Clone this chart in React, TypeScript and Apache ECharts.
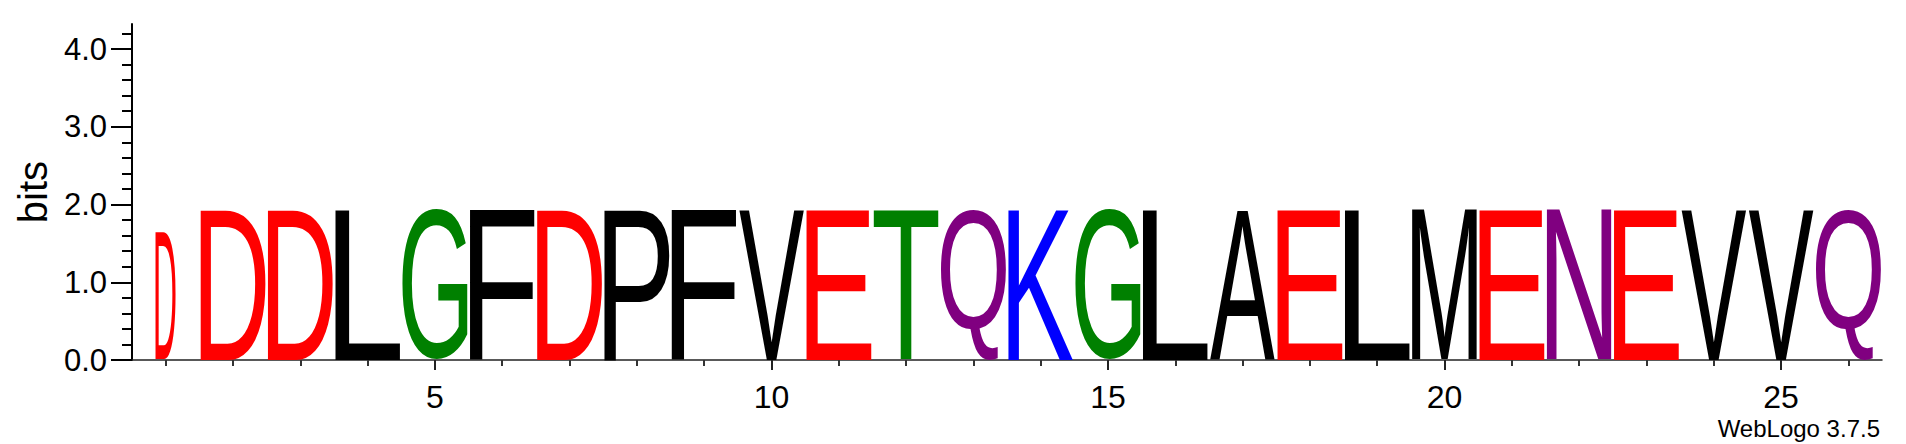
import { useEffect, useRef } from 'react';
import * as echarts from 'echarts';

// one residue per position, stack height in bits, fraction of non-gap sequences
const positions = [1, 2, 3, 4, 5, 6, 7, 8, 9, 10, 11, 12, 13, 14, 15, 16, 17, 18, 19, 20, 21, 22, 23, 24, 25, 26];
const letters = ['D', 'D', 'D', 'L', 'G', 'F', 'D', 'P', 'F', 'V', 'E', 'T', 'Q', 'K', 'G', 'L', 'A', 'E', 'L', 'M', 'E', 'N', 'E', 'V', 'V', 'Q'];
const bits = [1.63, 1.93, 1.93, 1.93, 1.93, 1.93, 1.93, 1.93, 1.93, 1.93, 1.93, 1.93, 1.93, 1.93, 1.93, 1.93, 1.93, 1.93, 1.93, 1.93, 1.93, 1.93, 1.93, 1.93, 1.93, 1.93];
const coverage = [0.31, 1, 1, 1, 1, 1, 1, 1, 1, 1, 1, 1, 1, 1, 1, 1, 1, 1, 1, 1, 1, 1, 1, 1, 1, 1];

const xMajorTicks = [5, 10, 15, 20, 25];
const xMinorTicks = [1, 2, 3, 4, 6, 7, 8, 9, 11, 12, 13, 14, 16, 17, 18, 19, 21, 22, 23, 24, 26];
const yMajorTicks = [0, 1, 2, 3, 4];
const yMinorTicks = [0.2, 0.4, 0.6, 0.8, 1.2, 1.4, 1.6, 1.8, 2.2, 2.4, 2.6, 2.8, 3.2, 3.4, 3.6, 3.8, 4.2];
const yMax = 4.3219; // log2(20)

const chemistry: Record<string, string> = {
  G: '#008000', S: '#008000', T: '#008000', Y: '#008000', C: '#008000',
  N: '#800080', Q: '#800080',
  K: '#0000ff', R: '#0000ff', H: '#0000ff',
  D: '#ff0000', E: '#ff0000',
};

const FONT = '"Liberation Sans", Arial, sans-serif';
const GLYPH_PX = 200;
const ctx = document.createElement('canvas').getContext('2d')!;

// where the alphabetic baseline falls, relative to y, for an svg text drawn
// with dominant-baseline: central (what zrender uses for verticalAlign middle)
function centralToAlphabetic() {
  const ns = 'http://www.w3.org/2000/svg';
  const svg = document.createElementNS(ns, 'svg');
  svg.setAttribute('style', 'position:absolute;left:-9999px;top:0;width:400px;height:400px');
  const t = document.createElementNS(ns, 'text');
  t.setAttribute('x', '0');
  t.setAttribute('y', '0');
  t.setAttribute('dominant-baseline', 'central');
  t.setAttribute('style', 'font:' + GLYPH_PX + 'px ' + FONT);
  t.textContent = 'D';
  svg.appendChild(t);
  document.body.appendChild(svg);
  const bb = t.getBBox();
  document.body.removeChild(svg);
  ctx.font = GLYPH_PX + 'px ' + FONT;
  ctx.textBaseline = 'alphabetic';
  const m = ctx.measureText('D');
  const fromTop = bb.y + m.fontBoundingBoxAscent;
  const fromBottom = bb.y + bb.height - m.fontBoundingBoxDescent;
  return (fromTop + fromBottom) / 2;
}

function inkBox(ch: string) {
  ctx.font = GLYPH_PX + 'px ' + FONT;
  ctx.textAlign = 'left';
  ctx.textBaseline = 'alphabetic';
  const m = ctx.measureText(ch);
  return {
    l: m.actualBoundingBoxLeft,
    r: m.actualBoundingBoxRight,
    a: m.actualBoundingBoxAscent,
    d: m.actualBoundingBoxDescent,
  };
}

const App = () => {
  const chartRef = useRef<HTMLDivElement>(null);

  useEffect(() => {
    if (!chartRef.current) return;
    const base = centralToAlphabetic();
    const chart = echarts.init(chartRef.current, null, { renderer: 'svg' });

    const axisBase = {
      type: 'value' as const,
      min: 0.5,
      max: 26.5,
      position: 'bottom' as const,
      splitLine: { show: false },
    };
    const yBase = {
      type: 'value' as const,
      min: 0,
      max: yMax,
      position: 'left' as const,
      splitLine: { show: false },
    };

    const option = {
      animation: false,
      grid: { left: 132, right: 24, top: 24, bottom: 84 },
      xAxis: [
        {
          ...axisBase,
          axisLine: { onZero: false, lineStyle: { color: '#222', width: 1.5 } },
          axisTick: { customValues: xMajorTicks, length: 10, lineStyle: { color: '#222', width: 2 } },
          axisLabel: {
            customValues: xMajorTicks,
            margin: 21,
            fontSize: 32,
            fontFamily: FONT,
            color: '#000',
          },
        },
        {
          ...axisBase,
          axisLine: { show: false, onZero: false },
          axisTick: { customValues: xMinorTicks, length: 6, lineStyle: { color: '#333', width: 2 } },
          axisLabel: { show: false },
        },
      ],
      yAxis: [
        {
          ...yBase,
          name: 'bits',
          nameLocation: 'middle',
          nameRotate: 90,
          nameGap: 76,
          nameTextStyle: { fontSize: 40, fontFamily: FONT, color: '#000' },
          axisLine: { lineStyle: { color: '#000', width: 2 } },
          axisTick: { customValues: yMajorTicks, length: 21, lineStyle: { color: '#000', width: 2 } },
          axisLabel: {
            customValues: yMajorTicks,
            margin: 25,
            fontSize: 31,
            fontFamily: FONT,
            color: '#000',
            formatter: (v: number) => v.toFixed(1),
          },
        },
        {
          ...yBase,
          axisLine: { show: false },
          axisTick: { customValues: yMinorTicks, length: 10, lineStyle: { color: '#000', width: 2 } },
          axisLabel: { show: false },
        },
      ],
      graphic: [
        {
          type: 'text',
          x: 1880,
          y: 440,
          style: {
            text: 'WebLogo 3.7.5',
            font: '24px ' + FONT,
            fill: '#000',
            align: 'right',
            textAlign: 'right',
            verticalAlign: 'bottom',
            textVerticalAlign: 'bottom',
          },
        },
      ],
      series: [
        {
          type: 'custom',
          coordinateSystem: 'cartesian2d',
          xAxisIndex: 0,
          yAxisIndex: 0,
          data: positions.map((p, i) => [p, bits[i], coverage[i]]),
          renderItem: (params: any, api: any) => {
            const ch = letters[params.dataIndex];
            const half = 0.483 * api.value(2);
            const p0 = api.coord([api.value(0) - half, api.value(1)]);
            const p1 = api.coord([api.value(0) + half, 0]);
            const b = inkBox(ch);
            const sx = (p1[0] - p0[0]) / (b.l + b.r);
            const sy = (p1[1] - p0[1]) / (b.a + b.d);
            // ink top sits at (base - a) in local units
            return {
              type: 'text',
              x: p0[0] + sx * b.l,
              y: p0[1] - sy * (base - b.a),
              scaleX: sx,
              scaleY: sy,
              style: {
                text: ch,
                font: GLYPH_PX + 'px ' + FONT,
                fill: chemistry[ch] || '#000000',
                align: 'left',
                textAlign: 'left',
                verticalAlign: 'middle',
                textVerticalAlign: 'middle',
              },
            };
          },
        },
      ],
    };

    chart.setOption(option as any);
    return () => {
      chart.dispose();
    };
  }, []);

  return (
    <div
      ref={chartRef}
      style={{ position: 'fixed', left: 0, top: 0, width: '1906px', height: '444px', background: '#fff' }}
    />
  );
};

export default App;
